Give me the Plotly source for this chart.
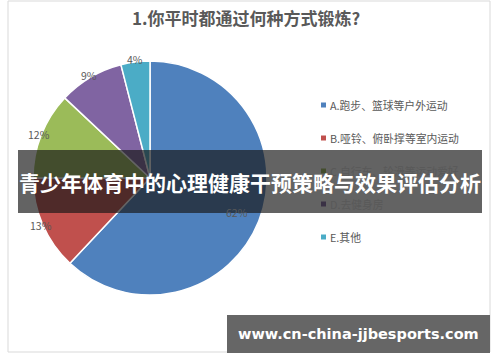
import math
import plotly.graph_objects as go

labels = ["A.跑步、篮球等户外运动", "B.哑铃、俯卧撑等室内运动", "C.自行车、轮滑等运动爱好", "D.去健身房", "E.其他"]
values = [62, 13, 12, 9, 4]
colors = ["#4F81BD", "#C0504D", "#9BBB59", "#8064A2", "#4BACC6"]
label_inside = [True, False, False, False, False]

title_text = "1.你平时都通过何种方式锻炼?"
banner_text = "青少年体育中的心理健康干预策略与效果评估分析"
watermark_text = "www.cn-china-jjbesports.com"

W, H = 500, 362
CJK = "Noto Sans CJK SC"

def px(x):
    return x / W

def py(y):
    return 1 - y / H

cx, cy, r = 150, 178, 117

fig = go.Figure()
fig.add_trace(go.Pie(
    labels=labels,
    values=values,
    sort=False,
    direction="clockwise",
    rotation=0,
    marker=dict(colors=colors, line=dict(color="white", width=1.5)),
    textinfo="none",
    domain=dict(x=[px(cx - r), px(cx + r)], y=[py(cy + r), py(cy - r)]),
    showlegend=False,
    hoverinfo="label+percent",
))

shapes = []
annotations = []

# percentage labels placed at each slice's mid-angle (data-derived)
total = sum(values)
cum = 0
for v, inside in zip(values, label_inside):
    mid = (cum + v / 2) / total
    cum += v
    theta = 2 * math.pi * mid
    d = r * 0.8 if inside else r + 2
    lx = cx + d * math.sin(theta)
    ly = cy - d * math.cos(theta)
    annotations.append(dict(text=f"{round(100 * v / total)}%", xref="paper", yref="paper",
                            x=px(lx), y=py(ly), showarrow=False, xanchor="center", yanchor="middle",
                            font=dict(family=CJK, size=10.5, color="#595959")))

# card border
shapes.append(dict(type="rect", xref="paper", yref="paper",
                   x0=px(8), x1=px(490), y0=py(352), y1=py(1),
                   line=dict(color="#D9D9D9", width=1), fillcolor="rgba(0,0,0,0)", layer="below"))

# title
annotations.append(dict(text="<b>" + title_text + "</b>", xref="paper", yref="paper",
                        x=px(246), y=py(18), showarrow=False, xanchor="center", yanchor="middle",
                        font=dict(family=CJK, size=17, color="#595959")))

# legend
for i, (lab, col) in enumerate(zip(labels, colors)):
    yy = 105 + 33 * i
    shapes.append(dict(type="rect", xref="paper", yref="paper",
                       x0=px(321), x1=px(326), y0=py(yy + 2.5), y1=py(yy - 2.5),
                       line=dict(width=0), fillcolor=col, layer="below"))
    annotations.append(dict(text=lab, xref="paper", yref="paper",
                            x=px(328), y=py(yy), showarrow=False, xanchor="left", yanchor="middle",
                            font=dict(family=CJK, size=10.8, color="#595959")))

# banner
shapes.append(dict(type="rect", xref="paper", yref="paper",
                   x0=px(18), x1=px(482), y0=py(213), y1=py(150),
                   line=dict(width=0), fillcolor="rgba(25,25,25,0.68)", layer="above"))
annotations.append(dict(text="<b>" + banner_text + "</b>", xref="paper", yref="paper",
                        x=px(250), y=py(182), showarrow=False, xanchor="center", yanchor="middle",
                        font=dict(family=CJK, size=21, color="white")))

# watermark
shapes.append(dict(type="rect", xref="paper", yref="paper",
                   x0=px(227), x1=px(490), y0=py(353), y1=py(315),
                   line=dict(width=0), fillcolor="#666666", layer="above"))
annotations.append(dict(text="<b>" + watermark_text + "</b>", xref="paper", yref="paper",
                        x=px(358), y=py(334), showarrow=False, xanchor="center", yanchor="middle",
                        font=dict(family="DejaVu Sans", size=14.5, color="white")))

fig.update_layout(
    width=W, height=H,
    margin=dict(l=0, r=0, t=0, b=0),
    paper_bgcolor="white",
    plot_bgcolor="white",
    shapes=shapes,
    annotations=annotations,
)

fig.write_html("out.html")
